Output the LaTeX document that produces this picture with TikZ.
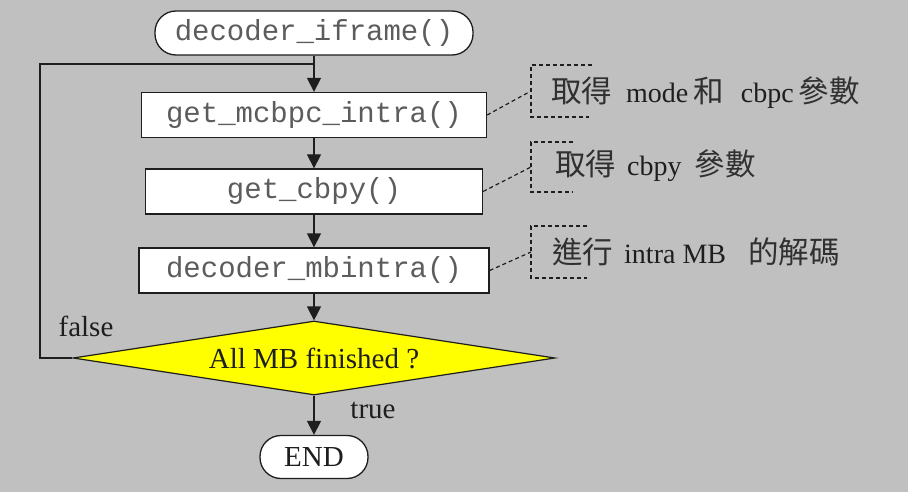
\documentclass[tikz,border=0pt]{standalone}
\usepackage{fontspec}
\setmainfont{Liberation Serif}
\setmonofont{Liberation Mono}
\newfontfamily\cjk{Noto Sans CJK TC}
\usetikzlibrary{shapes.geometric,arrows.meta}

\definecolor{canvas}{HTML}{C0C0C0}
\definecolor{codegray}{HTML}{5C5C5C}
\definecolor{inkdark}{HTML}{1E1E1E}
\definecolor{cjkgray}{HTML}{303030}
\definecolor{decision}{HTML}{FFFF00}

\newcommand{\zh}[1]{{\cjk\fontsize{30.5}{32}\selectfont\color{cjkgray}#1}}

\tikzset{
  codefont/.style={font=\ttfamily\fontsize{29}{31}\selectfont, text=codegray},
  textfont/.style={font=\fontsize{29}{31}\selectfont, text=inkdark},
  notefont/.style={font=\fontsize{28}{30}\selectfont, text=inkdark},
  terminal/.style={draw=inkdark, line width=1.3pt, fill=white,
    rounded corners=21pt, inner sep=0pt},
  procbox/.style={draw=inkdark, line width=1.3pt, fill=white,
    minimum height=45pt, inner sep=0pt, codefont},
  decisionbox/.style={shape=diamond, draw=inkdark, fill=decision,
    line width=1.2pt, aspect=6.5, inner sep=0pt, textfont},
  flow/.style={draw=inkdark, line width=1.3pt,
    -{Triangle[length=14pt,width=14pt]}},
  loopline/.style={draw=inkdark, line width=1.3pt},
  note/.style={draw=inkdark, line width=1.2pt, dash pattern=on 4pt off 3pt},
  label/.style={inner sep=0pt, anchor=west, notefont},
}

\begin{document}
\begin{tikzpicture}[x=1pt,y=-1pt]
  \fill[canvas] (0,0) rectangle (908,492);
  \useasboundingbox (0,0) rectangle (908,492);

  % main flow
  \node[terminal, codefont, minimum width=318pt, minimum height=44pt]
    (start) at (314,33) {decoder\_iframe()};
  \node[procbox, minimum width=345pt] (b1) at (314,115) {get\_mcbpc\_intra()};
  \node[procbox, minimum width=337pt] (b2) at (314,191.5) {get\_cbpy()};
  \node[procbox, minimum width=350pt] (b3) at (314,270.5) {decoder\_mbintra()};
  \node[decisionbox, minimum width=482pt, minimum height=74pt]
    (dec) at (314,358) {All MB finished ?};
  \node[terminal, textfont, minimum width=108pt, minimum height=43pt]
    (end) at (314,457) {END};

  % loop back when not finished
  \coordinate (loopcorner) at (40,64);
  \coordinate (loopjoin) at (314,64);
  \draw[loopline] (dec.west) -| (loopcorner) -- (loopjoin);

  \draw[flow] (start) -- (b1);
  \draw[flow] (b1) -- (b2);
  \draw[flow] (b2) -- (b3);
  \draw[flow] (b3) -- (dec);
  \draw[flow] (dec) -- (end);

  \node[textfont, inner sep=0pt] (falselbl) at (86,326) {false};
  \node[textfont, inner sep=0pt] (truelbl) at (373,410) {true};

  % annotations
  \coordinate (n1) at (531,91);
  \coordinate (n2) at (531,167);
  \coordinate (n3) at (531,252);

  \draw[note] (b1.east) -- (n1);
  \draw[note] (592,65) -- (531,65) -- (531,117) -- (589,117);
  \node[label] (t1) at (551,93)
    {\zh{取得}\hspace{14pt}mode\hspace{5pt}\zh{和}\hspace{17pt}cbpc\hspace{5pt}\zh{參數}};

  \draw[note] (b2.east) -- (n2);
  \draw[note] (573,142) -- (531,142) -- (531,192) -- (573,192);
  \node[label] (t2) at (555,166)
    {\zh{取得}\hspace{11pt}cbpy\hspace{13pt}\zh{參數}};

  \draw[note] (b3.east) -- (n3);
  \draw[note] (587,226) -- (531,226) -- (531,278) -- (587,278);
  \node[label] (t3) at (552,252)
    {\zh{進行}\hspace{11pt}intra MB\hspace{22pt}\zh{的解碼}};
\end{tikzpicture}
\end{document}
